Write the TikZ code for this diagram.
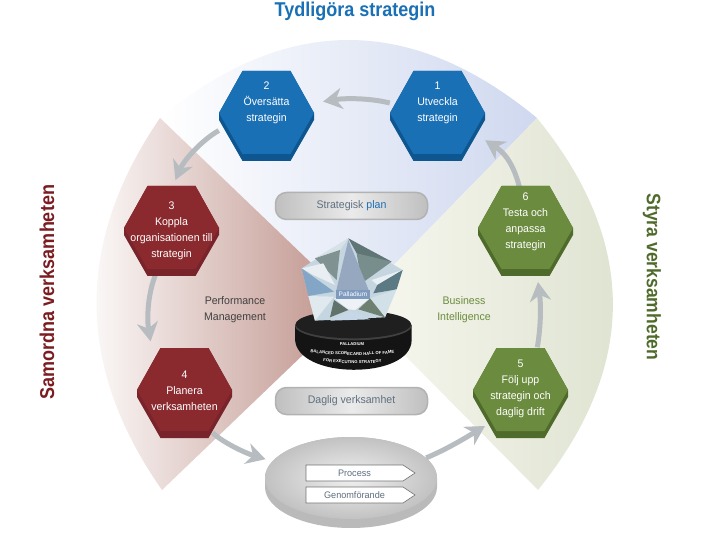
\documentclass[tikz,border=0pt]{standalone}
\usepackage{fontspec}
\setmainfont{Liberation Sans}
\newfontfamily\narrowfont[FakeStretch=0.96]{Liberation Sans}
\newfontfamily\titlefont[FakeStretch=0.9]{Liberation Sans}
\usetikzlibrary{arrows.meta,shapes.geometric,shapes.symbols,decorations.text}
\definecolor{hexblue}{HTML}{1A70B5}
\definecolor{hexblued}{HTML}{0E568F}
\definecolor{hexred}{HTML}{8A2A2E}
\definecolor{hexredd}{HTML}{79232A}
\definecolor{hexgreen}{HTML}{6B8B3E}
\definecolor{hexgreend}{HTML}{4F6B2B}
\definecolor{arrowgrey}{HTML}{B7BCC0}
\definecolor{labelgrey}{HTML}{5F7080}
\definecolor{sectorblue}{HTML}{CFD8EF}
\definecolor{sectorbluemid}{HTML}{EBEEF8}
\definecolor{sectorred}{HTML}{BD8F87}
\definecolor{sectorgreenA}{HTML}{F8F8F0}
\definecolor{sectorgreenB}{HTML}{DDE2CF}
\definecolor{titlered}{HTML}{7A1C20}
\tikzset{
  hexlabel/.style={minimum width=95pt,minimum height=83pt,inner sep=0pt,align=center,text=white,
    font=\narrowfont\fontsize{11}{16}\selectfont},
  flowarrow/.style={draw=arrowgrey,line width=5pt,-{Stealth[length=19pt,width=21pt,inset=6pt]}},
  pill/.style={rounded corners=11pt,minimum width=152pt,minimum height=27pt,inner sep=0pt,draw=black!30,line width=1.5pt,
    left color=black!25,right color=black!25,middle color=black!8,text=labelgrey,font=\narrowfont\fontsize{11}{13}\selectfont},
  tag/.style={shape=signal,signal to=east,signal pointer angle=67,draw=black!55,fill=white,line width=.6pt,
    minimum width=109pt,minimum height=16pt,inner sep=0pt,text=labelgrey,font=\narrowfont\fontsize{9.5}{11}\selectfont},
  sidetitle/.style={font=\titlefont\fontsize{20}{22}\selectfont\bfseries,inner sep=0pt},
  infotext/.style={align=center,inner sep=0pt,font=\narrowfont\fontsize{11}{16}\selectfont},
  basetext/.style={text=white,inner sep=0pt,font=\fontsize{4.2}{5}\selectfont\bfseries}
}
\newcommand{\hexa}[4]{% centre x, top y, face, side
  \begin{scope}[shift={(#1,#2)}]
    \fill[#4] (-47.5,42) -- (-24,0) -- (24,0) -- (47.5,42) -- (47.5,49) -- (24,90) -- (-24,90) -- (-47.5,49) -- cycle;
    \fill[#3] (-47.5,42) -- (-24,0) -- (24,0) -- (47.5,42) -- (24,83) -- (-24,83) -- cycle;
  \end{scope}}
\newcommand{\fct}[2]{\fill[fill={rgb,255:red,#1}] #2;}
\begin{document}
\begin{tikzpicture}[x=1pt,y=-1pt]
\useasboundingbox (0,0) rectangle (704,545);
% sectors
\shade[left color=white,middle color=sectorbluemid,right color=sectorblue] (160,118) .. controls (286,14) and (411,14) .. (537,118) -- (355,305) -- cycle;
\shade[left color=white,right color=sectorred] (160,118) .. controls (75,242) and (75,366) .. (162,490) -- (355,305) -- cycle;
\shade[left color=sectorgreenA,right color=sectorgreenB] (537,118) .. controls (638,242) and (638,366) .. (538,490) -- (355,305) -- cycle;
% disc
\fill[black!27] (265,478) arc[start angle=180,end angle=0,x radius=86,y radius=-41] -- ++(0,9) arc[start angle=0,end angle=180,x radius=86,y radius=41] -- cycle;
\node[ellipse,minimum width=172pt,minimum height=82pt,inner sep=0pt,inner color=black!6,outer color=black!24] (disc) at (351,478) {};
\node[tag] (process) at (354.5,473) {Process};
\node[tag] (genom) at (354.5,495) {Genomförande};
% anchors of the hexagons
\path
  node[hexlabel] (h1) at (437.5,103) {}
  node[hexlabel] (h2) at (266.5,103) {}
  node[hexlabel] (h3) at (171.5,231) {}
  node[hexlabel] (h4) at (184.5,391) {}
  node[hexlabel] (h5) at (520.5,389) {}
  node[hexlabel] (h6) at (525.5,222) {};
\coordinate (tipfive) at (485,426);
\coordinate (tipsix) at (538,282);
% connectors
\draw[flowarrow,shorten >=9pt] (h1.west) .. controls (370,98) and (345,98) .. (h2.east);
\draw[flowarrow,shorten >=10pt] (h2.210) .. controls (202,140) and (184,160) .. (h3.north);
\draw[flowarrow,shorten >=8pt] (h3.250) .. controls (147,295) and (147,320) .. (h4.128);
\draw[flowarrow,shorten >=7pt] (h4.-56) .. controls (222,442) and (245,453) .. (disc.168);
\draw[flowarrow] (disc.15) .. controls (445,450) and (462,440) .. (tipfive);
\draw[flowarrow] (h5.68) .. controls (541,325) and (541,305) .. (tipsix);
\draw[flowarrow] (h6.center) .. controls (520,172) and (508,155) .. (h1.-38);
% hexagons
\hexa{437.5}{71}{hexblue}{hexblued}
\hexa{266.5}{71}{hexblue}{hexblued}
\hexa{171.5}{186}{hexred}{hexredd}
\hexa{184.5}{348}{hexred}{hexredd}
\hexa{520.5}{348}{hexgreen}{hexgreend}
\hexa{525.5}{186}{hexgreen}{hexgreend}
\node[hexlabel] (t1) at (h1) {1\\Utveckla\\strategin};
\node[hexlabel] (t2) at (h2) {2\\Översätta\\strategin};
\node[hexlabel] (t3) at (h3) {3\\Koppla\\organisationen till\\strategin};
\node[hexlabel] (t4) at (h4) {4\\Planera\\verksamheten};
\node[hexlabel] (t5) at (h5) {5\\Följ upp\\strategin och\\daglig drift};
\node[hexlabel] (t6) at (h6) {6\\Testa och\\anpassa\\strategin};
% pills
\node[pill] (plan) at (351.5,206) {Strategisk \textcolor{hexblue}{plan}};
\node[pill] (daglig) at (351.5,401) {Daglig verksamhet};
% trophy, drawn in 3x crop coordinates
\begin{scope}[shift={(290,230)},x=0.3333pt,y=-0.3333pt]
  % base
  \fill[black!92] (15,285) -- (365,285) -- (365,330) .. controls (365,450) and (15,450) .. (15,325) -- cycle;
  \fill[black!75] (190,287) ellipse[x radius=175,y radius=44];
  \fill[black!88] (190,283) ellipse[x radius=173,y radius=42];
  % crystal
  \fct{198;green,214;blue,224}{(175,25) -- (338,120) -- (285,262) -- (75,272) -- (35,115) -- cycle}
  \fct{214;green,226;blue,232}{(175,25) -- (75,85) -- (100,100) -- (150,60) -- cycle}
  \fct{128;green,146;blue,146}{(75,85) -- (150,60) -- (140,150) -- cycle}
  \fct{96;green,118;blue,118}{(175,25) -- (305,95) -- (262,100) -- (200,70) -- cycle}
  \fct{120;green,142;blue,140}{(200,70) -- (305,95) -- (215,160) -- cycle}
  \fct{150;green,168;blue,192}{(175,30) -- (138,185) -- (238,185) -- cycle}
  \fct{232;green,238;blue,242}{(35,115) -- (100,100) -- (135,165) -- (70,135) -- cycle}
  \fct{132;green,166;blue,198}{(35,115) -- (132,185) -- (55,198) -- cycle}
  \fct{224;green,233;blue,238}{(55,198) -- (132,200) -- (75,272) -- cycle}
  \fct{232;green,240;blue,244}{(338,120) -- (245,150) -- (262,165) -- cycle}
  \fct{92;green,122;blue,132}{(338,120) -- (262,165) -- (250,190) -- (320,178) -- cycle}
  \fct{210;green,224;blue,232}{(320,178) -- (240,205) -- (285,262) -- cycle}
  \fct{110;green,128;blue,112}{(240,205) -- (285,262) -- (205,238) -- cycle}
  \fct{96;green,114;blue,106}{(132,210) -- (175,240) -- (120,262) -- cycle}
  \fct{198;green,216;blue,232}{(120,272) -- (185,243) -- (240,268) -- cycle}
  \fct{238;green,242;blue,246}{(132,205) -- (240,205) -- (195,240) -- (175,238) -- cycle}
  \fct{126;green,154;blue,191}{(138,180) rectangle (240,206)}
\end{scope}
\node[text=white,inner sep=0pt,font=\fontsize{6.5}{7}\selectfont] (pal) at (353,294) {Palladium};
\node[basetext] (b1) at (352,344.5) {PALLADIUM};
\path[decorate,decoration={text along path,text align=center,text color=white,
  text={|\fontsize{4.2}{5}\selectfont\bfseries|BALANCED SCORECARD HALL OF FAME}}] (309,352) .. controls (330,356) and (375,356) .. (396,353);
\path[decorate,decoration={text along path,text align=center,text color=white,
  text={|\fontsize{4.2}{5}\selectfont\bfseries|FOR EXECUTING STRATEGY}}] (319,361) .. controls (335,364) and (370,364) .. (386,362);
% texts
\node[infotext,text=black!75] (perf) at (235,310) {Performance\\Management};
\node[infotext,text=hexgreen] (bi) at (464,310) {Business\\Intelligence};
\node[sidetitle,text=hexblue] (top) at (355,11) {Tydligöra strategin};
\node[sidetitle,text=titlered,rotate=90] (left) at (47,292) {Samordna verksamheten};
\node[sidetitle,text=hexgreend,rotate=-90,font=\titlefont\fontsize{19.5}{22}\selectfont\bfseries] (right) at (652,277) {Styra verksamheten};
\end{tikzpicture}
\end{document}
